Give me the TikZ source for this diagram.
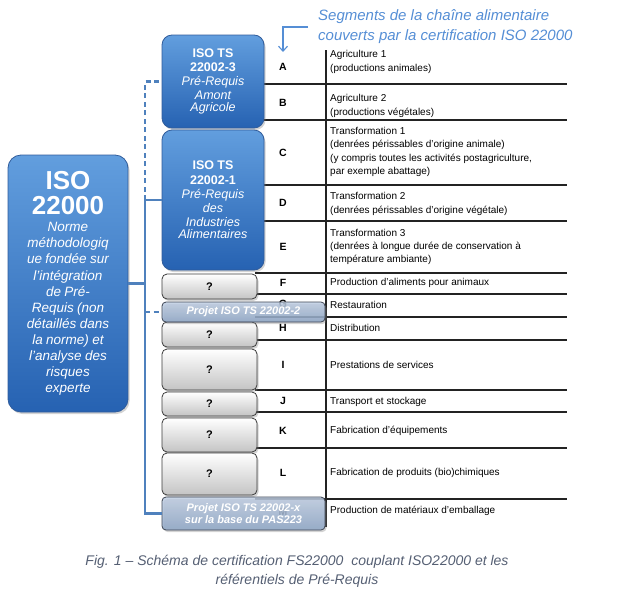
\documentclass[tikz,border=0pt]{standalone}
\usepackage{fontspec}
\setmainfont{Liberation Sans}
\usetikzlibrary{shadows,arrows.meta}
\definecolor{isotop}{RGB}{98,158,222}
\definecolor{isobot}{RGB}{38,98,178}
\definecolor{isoedge}{RGB}{48,92,155}
\definecolor{qbot}{RGB}{196,196,196}
\definecolor{qedge}{RGB}{60,60,60}
\definecolor{ptop}{RGB}{190,205,226}
\definecolor{pbot}{RGB}{138,163,197}
\definecolor{pedge}{RGB}{62,70,84}
\definecolor{isoline}{RGB}{79,129,189}
\definecolor{tline}{RGB}{35,35,35}
\definecolor{capgrey}{RGB}{85,95,115}
\definecolor{segblue}{RGB}{85,142,213}
\begin{document}
\begin{tikzpicture}[x=1pt,y=-1pt,
  shade/.style={drop shadow={opacity=0.35,shadow xshift=1.5pt,shadow yshift=-2pt}},
  bluebox/.style={shade,draw=isoedge,line width=0.8pt,rounded corners=10pt,top color=isotop,bottom color=isobot,text=white,align=center,inner sep=0pt},
  qbox/.style={shade,draw=qedge,line width=0.8pt,rounded corners=5pt,top color=white,bottom color=qbot,inner sep=0pt,minimum width=95pt,font=\fontsize{11}{13}\selectfont\bfseries},
  pbox/.style={shade,draw=pedge,line width=0.8pt,rounded corners=4pt,top color=ptop,bottom color=pbot,fill opacity=0.82,text opacity=1,text=white,inner sep=0pt,minimum width=163pt,align=center,font=\fontsize{11}{12.5}\selectfont\bfseries\itshape},
  link/.style={isoline,line width=2.4pt},
  dlink/.style={link,dash pattern=on 5pt off 3.5pt},
  tl/.style={tline,line width=1.1pt},
  letter/.style={font=\fontsize{10.5}{12}\selectfont\bfseries},
  rowtext/.style={anchor=west,align=left,inner sep=0pt,font=\fontsize{10}{13.3}\selectfont}]
\useasboundingbox (0,0) rectangle (617,600);
% title and arrow
\node[anchor=west,align=left,inner sep=0pt,font=\fontsize{15}{20}\selectfont\itshape,text=segblue] (seg) at (318,27) {Segments de la chaîne alimentaire\\couverts par la certification ISO 22000};
\coordinate (segtip) at (283,52);
\draw[segblue,line width=1.1pt,-{Straight Barb[length=5pt,width=9pt]}] ([xshift=-10pt]seg.west) -| (segtip);
% table
\draw[tl] (326,50) -- (326,527);
\foreach \y in {84,120,185,221,273,294,317,340,390,412,448,499} \draw[tl] (255,\y) -- (567,\y);
\foreach \l/\y in {A/67,B/103,C/153,D/203,E/247,F/283,G/304,H/328,I/365,J/401,K/431,L/473,M/512} \node[letter] (L\l) at (283,\y) {\l};
\node[rowtext] (tA) at (330,62) {Agriculture 1\\(productions animales)};
\node[rowtext] (tB) at (330,106) {Agriculture 2\\(productions végétales)};
\node[rowtext] (tC) at (330,152) {Transformation 1\\(denrées périssables d'origine animale)\\(y compris toutes les activités postagriculture,\\par exemple abattage)};
\node[rowtext] (tD) at (330,204) {Transformation 2\\(denrées périssables d'origine végétale)};
\node[rowtext] (tE) at (330,247) {Transformation 3\\(denrées à longue durée de conservation à\\température ambiante)};
\foreach \n/\y/\t in {F/283/{Production d'aliments pour animaux},G/305/Restauration,H/328/Distribution,I/365/{Prestations de services},J/402/{Transport et stockage},K/431/{Fabrication d'équipements},L/473/{Fabrication de produits (bio)chimiques},M/511/{Production de matériaux d'emballage}} \node[rowtext] (t\n) at (330,\y) {\t};
% standards
\node[bluebox,rounded corners=13pt,minimum width=120pt,minimum height=257pt,text width=120pt] (iso) at (68,283.5) {{\fontsize{26}{25}\selectfont\bfseries ISO\\22000\par}\vspace{1pt}{\fontsize{13.5}{16.1}\selectfont\itshape Norme\\méthodologiq\\ue fondée sur\\l'intégration\\de Pré-\\Requis (non\\détaillés dans\\la norme) et\\l'analyse des\\risques\\experte\par}};
\node[bluebox,minimum width=102pt,minimum height=93pt,text width=102pt] (b3) at (213,81.5) {\fontsize{12.5}{14}\selectfont\bfseries ISO TS\\22002-3\\\mdseries\itshape Pré-Requis\\Amont\\Agricole};
\node[bluebox,minimum width=102pt,minimum height=140pt,text width=102pt] (b1) at (213,200) {\fontsize{12.5}{14.2}\selectfont\bfseries ISO TS\\22002-1\\\mdseries\itshape Pré-Requis\\des\\Industries\\Alimentaires};
\foreach \n/\y/\h in {F/286.5/25,H/334.5/25,I/369.5/41,J/404/24,K/435/34,L/474/42} \node[qbox,minimum height=\h pt] (q\n) at (209.5,\y) {?};
\node[pbox,minimum height=20pt] (p2) at (243.5,312) {Projet ISO TS 22002-2};
\node[pbox,minimum height=33pt] (px) at (243.5,513.5) {Projet ISO TS 22002-x\\sur la base du PAS223};
% connectors
\coordinate (trunk) at (145,283.5);
\draw[link] (iso.east) -- (trunk);
\draw[link] (b1.west) -| (trunk) |- (px.west);
\draw[dlink] (b1.west -| trunk) |- (b3.west);
\draw[dlink] (p2.west -| trunk) -- (p2.west);
% caption
\node[align=center,font=\fontsize{14}{19}\selectfont\itshape,text=capgrey] (cap) at (297,571) {Fig. 1 – Schéma de certification FS22000\ \ couplant ISO22000 et les\\référentiels de Pré-Requis};
\end{tikzpicture}
\end{document}
